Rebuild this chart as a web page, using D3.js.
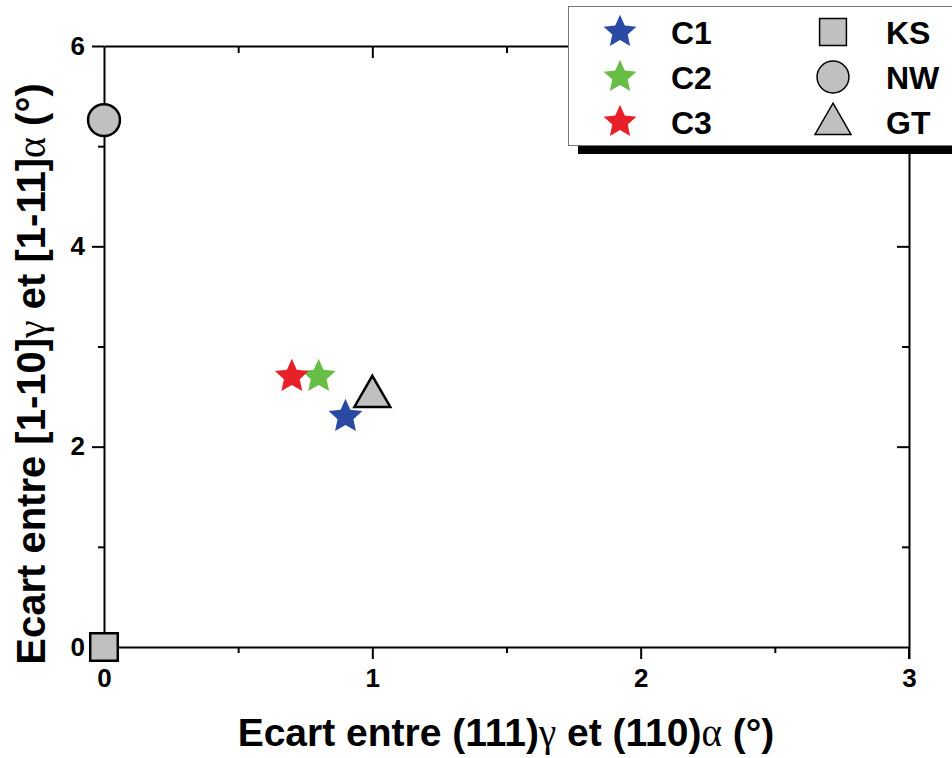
<!DOCTYPE html>
<html><head><meta charset="utf-8">
<script src="https://cdn.jsdelivr.net/npm/d3@7"></script>
<style>body{margin:0;background:#fff}svg{display:block}</style>
</head><body>
<svg id="chart" width="952" height="758"></svg>
<script>
// Data
const sampleNames = ["C1", "C2", "C3"];
const sampleX = [0.9, 0.8, 0.7];
const sampleY = [2.3, 2.7, 2.7];
const sampleColors = ["#2b4aa3", "#68bd45", "#e8202a"];

const modelNames = ["KS", "NW", "GT"];
const modelX = [0, 0, 1];
const modelY = [0, 5.26, 2.5];

const xTicks = [0, 1, 2, 3];
const xMinor = [0.5, 1.5, 2.5];
const yTicks = [0, 2, 4, 6];
const yMinor = [1, 3, 5];

const svg = d3.select("#chart");
const L = 104, R = 909, T = 46, B = 647;
const x = d3.scaleLinear().domain([0, 3]).range([L, R]);
const y = d3.scaleLinear().domain([0, 6]).range([B, T]);

const font = "Arial, 'Liberation Sans', sans-serif";
const serif = "'Liberation Serif', 'Times New Roman', serif";

// custom fat star
const fatStar = {
  draw(ctx, size) {
    const r = Math.sqrt(size) * 0.95, ri = r * 0.47;
    for (let i = 0; i < 10; i++) {
      const a = -Math.PI / 2 + i * Math.PI / 5;
      const rr = i % 2 ? ri : r;
      const px = rr * Math.cos(a), py = rr * Math.sin(a);
      i ? ctx.lineTo(px, py) : ctx.moveTo(px, py);
    }
    ctx.closePath();
  }
};
const modelSym = [d3.symbolSquare, d3.symbolCircle, d3.symbolTriangle];
const modelSize = [760, 800, 560];

function styleAxis(g) {
  g.attr("font-size", 26).attr("font-family", font);
  g.selectAll(".domain").attr("stroke", "#000").attr("stroke-width", 2);
  g.selectAll(".tick line").attr("stroke", "#000").attr("stroke-width", 2);
  g.selectAll("text").attr("font-family", font).attr("font-weight", "bold")
    .attr("font-size", 26).attr("fill", "#000");
}

// Minor ticks
function minor(axisFn, scale, vals, size, transform) {
  svg.append("g").attr("transform", transform)
    .call(axisFn(scale).tickValues(vals).tickSize(size).tickFormat(""))
    .call(g => { g.select(".domain").remove(); styleAxis(g); });
}
minor(d3.axisBottom, x, xMinor, 6, `translate(0,${B})`);
minor(d3.axisTop, x, xMinor, -7, `translate(0,${T})`);
minor(d3.axisLeft, y, yMinor, 6, `translate(${L},0)`);
minor(d3.axisRight, y, yMinor, -7, `translate(${R},0)`);

// Major axes
svg.append("g").attr("transform", `translate(0,${B})`)
  .call(d3.axisBottom(x).tickValues(xTicks).tickSize(12).tickPadding(10).tickSizeOuter(0).tickFormat(d3.format("d")))
  .call(styleAxis);
svg.append("g").attr("transform", `translate(0,${T})`)
  .call(d3.axisTop(x).tickValues(xTicks.slice(1, 3)).tickSize(-12).tickSizeOuter(0).tickFormat(""))
  .call(styleAxis);
svg.append("g").attr("transform", `translate(${L},0)`)
  .call(d3.axisLeft(y).tickValues(yTicks).tickSize(12).tickPadding(7).tickSizeOuter(0).tickFormat(d3.format("d")))
  .call(styleAxis);
svg.append("g").attr("transform", `translate(${R},0)`)
  .call(d3.axisRight(y).tickValues(yTicks.slice(1, 3)).tickSize(-12).tickSizeOuter(0).tickFormat(""))
  .call(styleAxis);
svg.append("line").attr("x1", R).attr("x2", R).attr("y1", B).attr("y2", B + 12).attr("stroke", "#000").attr("stroke-width", 2);

// Model markers
svg.append("g").selectAll("path").data(modelNames).join("path")
  .attr("transform", (d, i) => `translate(${x(modelX[i])},${y(modelY[i])})`)
  .attr("d", (d, i) => d3.symbol(modelSym[i], modelSize[i])())
  .attr("fill", "#c0c0c0").attr("stroke", "#000").attr("stroke-width", 2.5);

// Sample stars
svg.append("g").selectAll("path").data(sampleNames).join("path")
  .attr("transform", (d, i) => `translate(${x(sampleX[i])},${y(sampleY[i])})`)
  .attr("d", d3.symbol(fatStar, 350)())
  .attr("fill", (d, i) => sampleColors[i]);

// Axis titles
const xt = svg.append("text").attr("x", 506).attr("y", 746).attr("text-anchor", "middle")
  .attr("font-family", font).attr("font-weight", "bold").attr("font-size", 39);
xt.append("tspan").text("Ecart entre (111)");
xt.append("tspan").attr("font-family", serif).attr("font-weight", "normal").text("γ");
xt.append("tspan").text(" et (110)");
xt.append("tspan").attr("font-family", serif).attr("font-weight", "normal").text("α");
xt.append("tspan").text(" (°)");

const yt = svg.append("text").attr("transform", "translate(45,374) rotate(-90)").attr("text-anchor", "middle")
  .attr("font-family", font).attr("font-weight", "bold").attr("font-size", 40);
yt.append("tspan").text("Ecart entre [1-10]");
yt.append("tspan").attr("font-family", serif).attr("font-weight", "normal").text("γ");
yt.append("tspan").text(" et [1-11]");
yt.append("tspan").attr("font-family", serif).attr("font-weight", "normal").text("α");
yt.append("tspan").text(" (°)");

// Legend
const lg = svg.append("g");
lg.append("rect").attr("x", 578).attr("y", 146).attr("width", 400).attr("height", 8).attr("fill", "#000");
lg.append("rect").attr("x", 568.5).attr("y", 6.5).attr("width", 400).attr("height", 139)
  .attr("fill", "#fff").attr("stroke", "#777").attr("stroke-width", 1);
const rowsY = [32, 77, 122];
sampleNames.forEach((n, i) => {
  lg.append("path").attr("transform", `translate(620,${rowsY[i]})`)
    .attr("d", d3.symbol(fatStar, 330)()).attr("fill", sampleColors[i]);
  lg.append("text").attr("x", 671).attr("y", rowsY[i] + 12)
    .attr("font-family", font).attr("font-weight", "bold").attr("font-size", 32).text(n);
});
const legSize = [720, 800, 560];
modelNames.forEach((n, i) => {
  lg.append("path").attr("transform", `translate(833,${rowsY[i] + (i === 2 ? 2 : 0)})`)
    .attr("d", d3.symbol(modelSym[i], legSize[i])())
    .attr("fill", "#c0c0c0").attr("stroke", "#000").attr("stroke-width", 1.5);
  lg.append("text").attr("x", 886).attr("y", rowsY[i] + 12)
    .attr("font-family", font).attr("font-weight", "bold").attr("font-size", 32).text(n);
});
</script>
</body></html>
